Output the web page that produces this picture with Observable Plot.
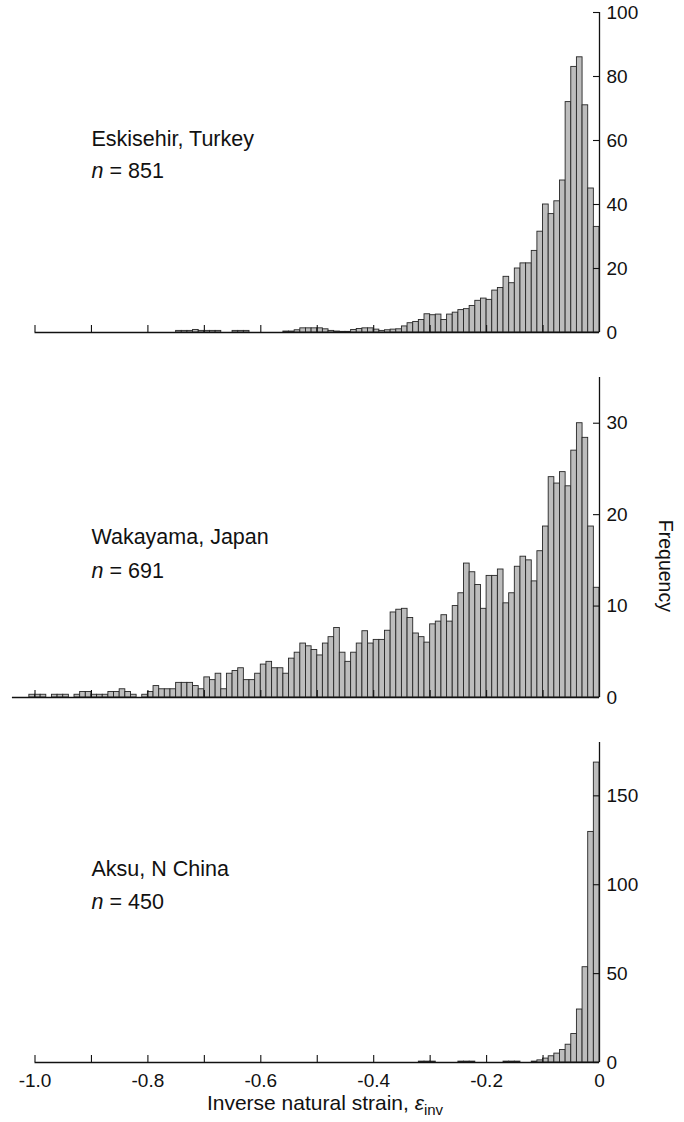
<!DOCTYPE html>
<html><head><meta charset="utf-8">
<script src="https://cdn.jsdelivr.net/npm/d3@7"></script>
<script src="https://cdn.jsdelivr.net/npm/@observablehq/plot@0.6"></script>
<style>
body{margin:0;background:#fff;font-family:"Liberation Sans",Arial,sans-serif;}
#chart svg{display:block}
#title{width:650px;height:30px;text-align:center;font-size:21px;line-height:22px;color:#111;white-space:nowrap}
#title sub{font-size:15px;vertical-align:-5px;line-height:0}
</style></head><body>
<div id="chart"></div>
<div id="title">Inverse natural strain, <i>ε</i><sub>inv</sub></div>
<script>
// ---- data ----
const binWidth = 0.01;
const xTicks = [-1, -0.9, -0.8, -0.7, -0.6, -0.5, -0.4, -0.3, -0.2, -0.1];
const xLabelValues = [-1, -0.8, -0.6, -0.4, -0.2, 0];
const xLabelTexts = ["-1.0", "-0.8", "-0.6", "-0.4", "-0.2", "0"];

const eskLabel = "Eskisehir, Turkey", eskN = 851;
const eskStart = -0.75;
const eskCounts = [0.5,0.5,0.5,0.8,0.5,0.5,0.5,0.5,0,0, 0.5,0.5,0.5,0,0,0,0,0,0,0.3,
  0.3,0.7,1.3,1.3,1.3,1.3,1.0,0.5,0.3,0.2, 0.2,0.8,1.1,1.3,1.3,0.9,0.5,0.7,0.9,1.0,
  1.9,2.9,3.3,3.9,5.7,5.4,5.6,3.9,5.6,6.2, 7.0,7.3,8.3,9.9,10.6,10.2,13.1,13.9,17.4,15.4,
  20.0,21.6,21.6,25.5,31.5,40,37,41,47.5,72, 83,86,71,45,33];
const eskTicks = [0,20,40,60,80,100];

const wakLabel = "Wakayama, Japan", wakN = 691;
const wakStart = -1.01;
const wakCounts = [0.3,0.3,0.3,0,0.3,0.3,0.3,0,0.3,0.6, 0.6,0.3,0.3,0.3,0.6,0.6,0.9,0.6,0.3,0,
  0.3,0.6,1.25,0.9,0.9,0.9,1.6,1.6,1.6,1.25, 0.9,2.2,1.9,2.6,0.9,2.6,2.9,3.2,1.9,1.9,
  2.6,3.6,3.9,3.2,3.2,2.6,4.25,4.9,5.9,5.6, 5.2,4.6,5.9,6.6,7.6,4.9,3.9,4.9,5.9,7.25,
  5.9,6.3,6.3,7.3,9.3,9.6,9.7,8.7,7.0,6.6, 6.0,8.0,8.3,9.0,8.3,10.0,11.4,14.65,13.7,12.3,
  9.7,13.3,13.3,14.0,10.3,11.4,14.3,15.4,15.0,12.7, 16.0,18.7,24.1,23.4,24.65,23.1,27.0,30.0,28.4,18.7, 12.0];
const wakTicks = [0,10,20,30];

const akLabel = "Aksu, N China", akN = 450;
const akStart = -0.32;
const akCounts = [0.5,0.5,0.5,0,0,0,0,0.5,0.5,0.5, 0,0,0,0,0,0.5,0.5,0.5,0,0,
  0.5,1.2,2.2,3.5,5,7,10,16,29.8,53.6, 129.7,168.7];
const akTicks = [0,50,100,150];

// ---- helpers ----
function bins(start, counts) {
  return counts.map((c, i) => ({x1: start + i * binWidth, x2: start + (i + 1) * binWidth, y: c}));
}
const FONT = '"Liberation Sans", Arial, sans-serif';
const INK = "#111";

function panel({data, yMax, yTicks, label, n, labelY, nY, axisStart = -1, marginBottom = 33, extra = []}) {
  const frameH = 320, frameW = 684 - 34.5 - 85;
  return Plot.plot({
    width: 684, height: 12 + frameH + marginBottom,
    marginLeft: 34.5, marginRight: 85, marginTop: 12, marginBottom,
    x: {domain: [-1, 0], axis: null},
    y: {domain: [0, yMax], axis: null},
    style: {fontFamily: FONT, background: "white", overflow: "visible", color: INK},
    marks: [
      Plot.rectY(data, {x1: "x1", x2: "x2", y: "y", fill: "#bdbdbd", stroke: "#262626", strokeWidth: 0.9}),
      Plot.ruleY([0], {x1: () => axisStart, x2: () => 0, stroke: INK, strokeWidth: 1.3}),
      Plot.tickX(xTicks, {x: d => d, insetTop: frameH - 7, stroke: INK, strokeWidth: 1.1}),
      Plot.ruleX([0], {stroke: INK, strokeWidth: 1.3}),
      Plot.tickY(yTicks, {y: d => d, insetLeft: frameW - 6, stroke: INK, strokeWidth: 1.1}),
      Plot.text(yTicks, {x: () => 0, y: d => d, text: d => String(d), textAnchor: "start", dx: 7, fontSize: 19, fill: INK}),
      Plot.text([label], {x: () => -0.9, y: () => labelY, text: d => d, textAnchor: "start", fontSize: 21.5, fill: INK}),
      Plot.text(["n"], {x: () => -0.9, y: () => nY, text: d => d, textAnchor: "start", fontStyle: "italic", fontSize: 21.5, fill: INK}),
      Plot.text([`= ${n}`], {x: () => -0.9, y: () => nY, text: d => d, textAnchor: "start", dx: 18, fontSize: 21.5, fill: INK}),
      ...extra
    ]
  });
}

const chart = document.getElementById("chart");
chart.append(panel({data: bins(eskStart, eskCounts), yMax: 100, yTicks: eskTicks,
  label: eskLabel, n: eskN, labelY: 60.4, nY: 50.5}));
chart.append(panel({data: bins(wakStart, wakCounts), yMax: 35, yTicks: wakTicks,
  label: wakLabel, n: wakN, labelY: 17.5, nY: 13.8, axisStart: -1.04,
  extra: [Plot.text(["Frequency"], {x: () => 0, y: () => 14.4, text: d => d, rotate: 90, dx: 66, fontSize: 19.5, fill: INK})]}));
chart.append(panel({data: bins(akStart, akCounts), yMax: 180, yTicks: akTicks,
  label: akLabel, n: akN, labelY: 109, nY: 90.5, marginBottom: 30,
  extra: [Plot.text(xLabelValues, {x: d => d, y: () => 0, text: (d, i) => xLabelTexts[i], dy: 18, fontSize: 19, fill: INK})]}));
</script>
</body></html>
